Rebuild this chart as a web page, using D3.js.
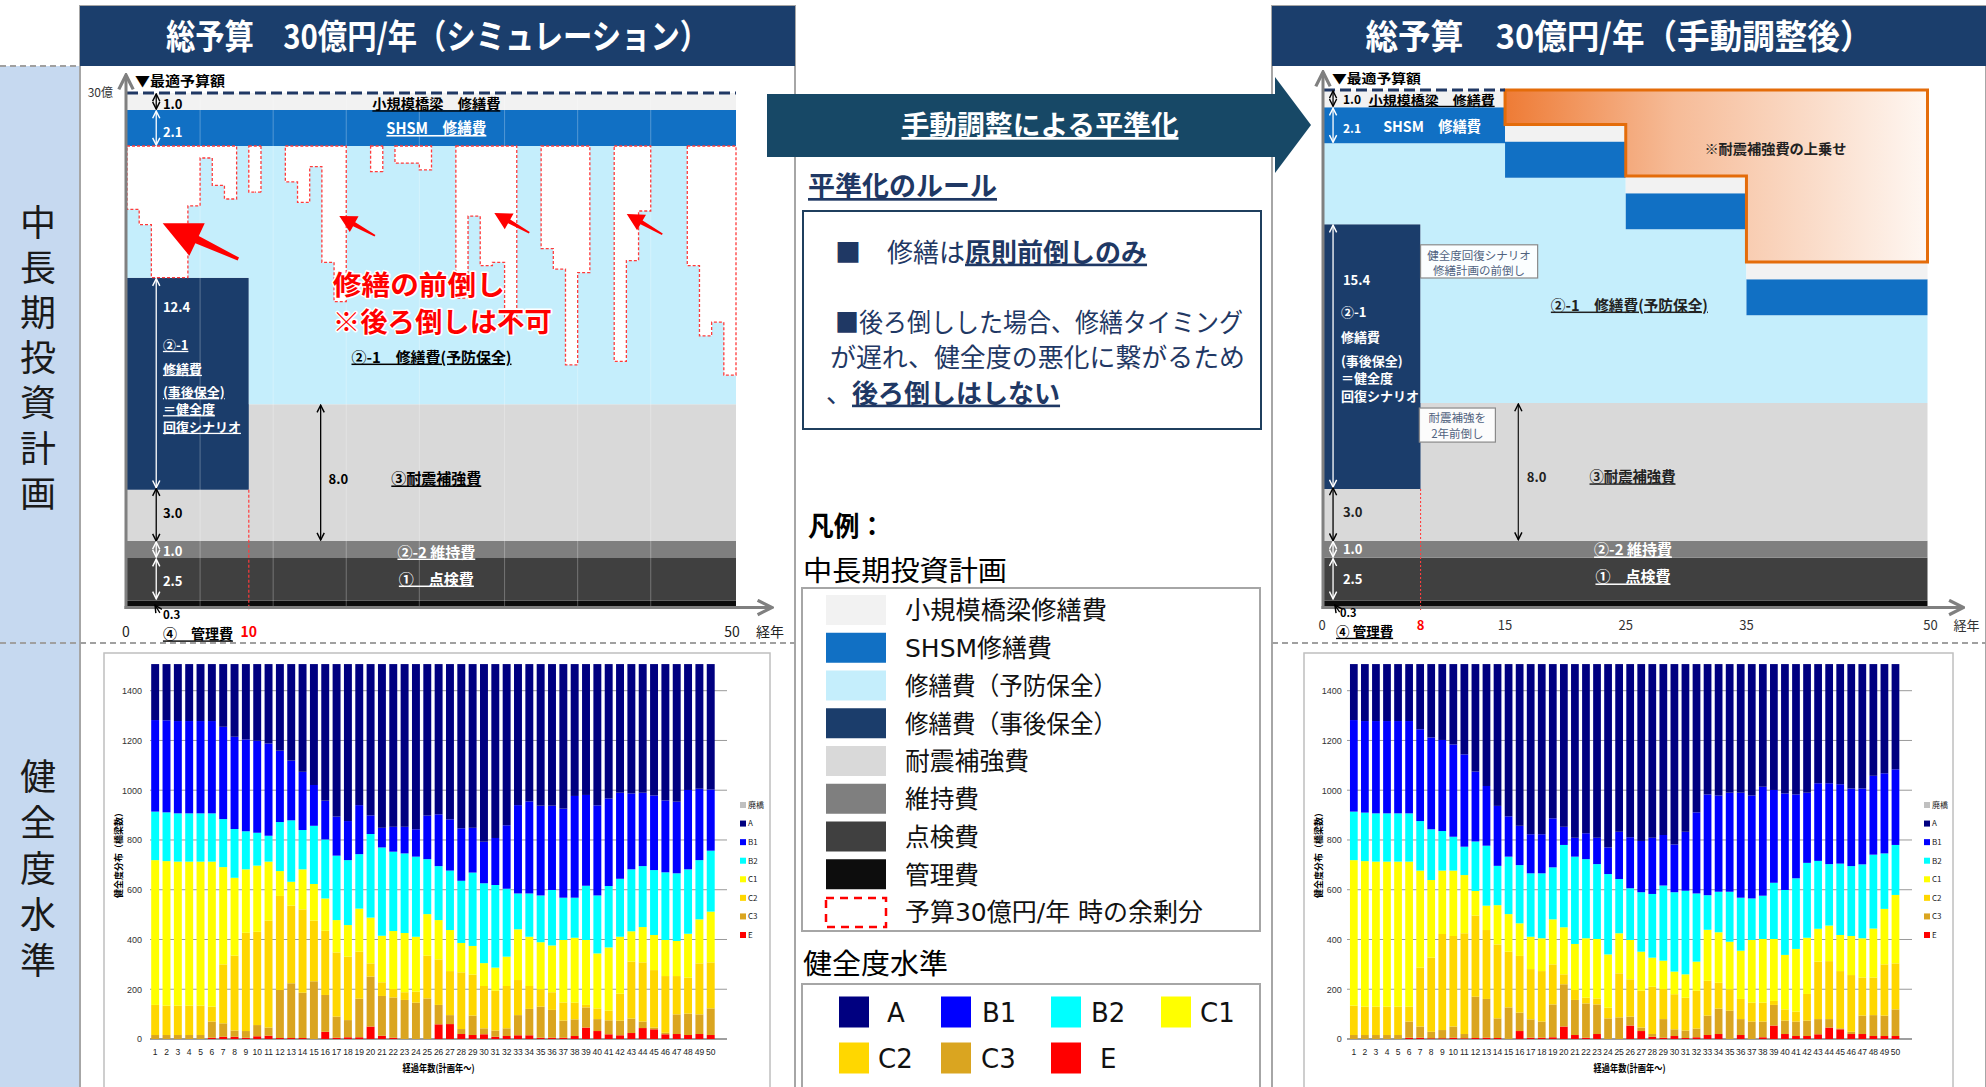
<!DOCTYPE html>
<html lang="ja">
<head>
<meta charset="utf-8">
<title>総予算 30億円/年</title>
<script src="https://cdn.jsdelivr.net/npm/d3@7/dist/d3.min.js"></script>
<style>
html,body{margin:0;padding:0;background:#fff;}
svg{display:block;}
</style>
</head>
<body>
<svg id="board" width="1986" height="1087"></svg>
<script>
// ---------- fonts ----------
const JP = '"Noto Sans CJK JP","Noto Sans CJK SC",sans-serif';
const VERD = '"DejaVu Sans","Noto Sans CJK JP",sans-serif';
const LIB = '"Liberation Sans","DejaVu Sans",sans-serif';

// ---------- 中長期投資計画 (億円/年) ----------
const planYears = d3.range(0, 50);
const TOTAL_BUDGET = 30;
const kanriCost = 0.3;     // ④ 管理費
const tenkenCost = 2.5;    // ① 点検費
const ijiCost = 1.0;       // ②-2 維持費
const shsmCost = 2.1;      // SHSM 修繕費
const shokiboCost = 1.0;   // 小規模橋梁 修繕費

// シミュレーション
const simPeriods = [0, 10, 50];
const simTaishin = [3.0, 8.0];
const simJigo = [12.4, 0];
const simYobo = [4.0, 3.1, 0, 0, 0, 4.2, 7.0, 5.4, 4.6, 7.7,
  12.4, 15.1, 15.1, 13.0, 11.8, 13.9, 8.3, 6.0, 15.1, 15.1,
  13.6, 15.1, 14.1, 14.1, 13.7, 15.1, 15.1, 6.2, 11.0, 8.1,
  8.3, 4.9, 15.1, 15.1, 9.1, 7.9, 2.3, 7.7, 15.1, 15.1,
  2.5, 8.4, 11.3, 15.1, 15.1, 15.1, 8.1, 4.0, 4.8, 1.7];

// 手動調整後
const adjPeriods = [0, 8, 15, 25, 35, 50];
const adjTaishin = [3.0, 8.0, 8.0, 8.0, 8.0];
const adjJigo = [15.4, 0, 0, 0, 0];
const adjYobo = [4.7, 15.1, 13.1, 10.1, 5.1];
const adjUwanose = [0, 0, 2.0, 5.0, 10.0];   // 耐震補強費の上乗せ

const simTicks = [0, 10, 50];
const adjTicks = [0, 8, 15, 25, 35, 50];

// ---------- 健全度水準 (橋梁数) ----------
const healthYears = d3.range(1, 51);
const gradeKeys = ["E", "C3", "C2", "C1", "B2", "B1", "A"];
const healthTicks = [0, 200, 400, 600, 800, 1000, 1200, 1400];
const legendKeys = ["廃橋", "A", "B1", "B2", "C1", "C2", "C3", "E"];

const simE  = [0,0,0,0,0,5,9,9,5,11, 13,4,4,4,0,29,5,7,7,50, 13,5,0,0,0,59,60,20,16,19, 9,12,15,15,5,5,5,12,46,32, 19,15,24,44,39,19,20,16,20,16];
const simC3 = [16,16,16,16,16,65,54,25,27,45, 33,193,220,182,232,148,85,69,155,201, 160,162,157,146,163,78,36,20,78,24, 25,31,81,106,125,112,69,67,81,48, 56,59,58,26,7,6,79,86,79,107];
const simC2 = [121,118,118,118,118,60,237,301,395,375, 430,378,312,335,244,258,258,255,189,53, 55,34,31,44,172,183,177,228,165,170, 160,170,141,92,70,71,73,67,10,43, 39,108,229,238,231,228,154,145,205,185];
const simC1 = [582,581,579,579,579,583,391,313,255,266, 237,100,96,161,147,130,130,127,173,184, 187,233,238,221,167,158,165,118,115,92, 93,118,204,198,189,188,251,261,261,221, 254,229,122,142,141,145,141,176,177,204];
const simB2 = [195,196,194,194,194,194,193,196,153,132, 104,197,247,158,234,237,259,261,219,336, 355,319,320,322,221,217,239,250,295,321, 332,273,144,174,188,223,170,161,218,233, 247,233,249,245,261,272,272,259,238,245];
const simB1 = [368,370,371,371,371,371,371,371,369,370, 371,287,240,234,164,156,157,157,197,75, 79,100,107,110,175,208,206,211,180,167, 189,255,355,370,361,339,358,409,365,362, 352,346,305,295,300,289,288,319,287,246];
const simA  = [225,226,229,229,229,229,252,292,303,308, 319,348,388,433,486,549,613,631,567,608, 658,654,654,664,609,604,624,660,658,714, 699,648,567,552,569,569,581,530,526,568, 540,517,520,517,528,548,553,506,501,504];

const adjE  = [0,0,0,0,0,5,5,3,3,5, 3,4,5,4,0,32,5,5,7,50, 16,5,20,0,0,54,32,9,5,12, 4,7,16,20,0,16,0,7,54,20, 12,12,19,46,39,20,20,12,12,12];
const adjC3 = [16,16,16,16,16,65,45,26,33,45, 17,166,156,79,127,74,74,65,132,170, 141,138,119,83,87,36,14,11,75,27, 30,35,78,102,114,64,70,63,83,54, 58,62,61,34,4,9,74,84,82,107];
const adjC2 = [118,114,114,114,114,60,237,298,386,364, 405,326,277,297,224,228,202,203,161,40, 40,23,24,43,177,150,148,190,121,141, 132,152,140,104,86,81,76,76,16,45, 40,107,231,233,230,228,153,151,206,185];
const adjC1 = [585,585,583,583,583,583,390,312,255,263, 234,99,98,158,151,131,130,132,181,189, 185,239,239,214,161,158,157,117,114,91, 94,117,205,203,191,194,252,256,249,219, 252,226,132,143,145,157,158,197,223,275];
const adjB2 = [195,195,194,194,194,194,199,204,159,136, 114,199,241,158,231,234,255,261,209,331, 351,318,301,323,218,208,239,256,302,319, 336,274,139,163,201,213,167,174,226,261, 284,301,273,247,287,281,297,297,223,201];
const adjB1 = [368,368,371,371,371,371,369,369,366,371, 371,281,240,241,162,158,157,157,197,73, 76,104,106,107,190,205,206,226,203,192, 237,326,405,387,398,422,414,438,373,388, 337,282,312,325,319,312,305,317,322,304];
const adjA  = [225,229,229,229,229,229,262,295,305,323, 363,432,490,570,612,650,684,684,620,654, 698,680,698,737,674,696,711,698,687,725, 674,596,524,528,517,517,528,493,506,520, 524,517,479,479,483,500,500,449,439,423];

// ---------- colours ----------
const layerFill = {
  kanri: "#0d0d0d", tenken: "#404040", iji: "#7f7f7f", taishin: "#d9d9d9",
  jigo: "#1b3d6b", yobo: "#c5eefc", surplus: "#ffffff", shsm: "#1170c4",
  shokibo: "#f2f2f2", uwanose: "url(#uwaGrad)"
};
const gradeColors = { "廃橋": "#c0c0c0", A: "#000080", B1: "#0000ff", B2: "#00ffff",
  C1: "#ffff00", C2: "#ffd700", C3: "#daa520", E: "#ff0000" };
const NAVY = "#1b3e6c";
const TEXT_NAVY = "#1f3864";

// ---------- helpers ----------
const svg = d3.select("#board");
const defs = svg.append("defs");

function txt(g, s, px, cy, o = {}) {
  const size = o.size || 14;
  const t = g.append("text").attr("x", px).attr("y", cy + 0.37 * size).text(s)
    .attr("font-size", size).attr("fill", o.fill || "#000")
    .attr("text-anchor", o.anchor || "start")
    .style("font-family", o.font || JP);
  if (o.bold) t.attr("font-weight", "bold");
  if (o.u) t.style("text-decoration", "underline");
  if (o.len) t.attr("textLength", o.len).attr("lengthAdjust", "spacingAndGlyphs");
  if (o.halo) t.attr("stroke", o.halo).attr("stroke-width", o.haloW || 3)
    .attr("paint-order", "stroke").attr("stroke-linejoin", "round");
  return t;
}

function vtext(s, cx, firstCenter, size, step) {
  svg.append("text").attr("x", cx).attr("y", firstCenter - size / 2)
    .style("writing-mode", "vertical-rl").style("letter-spacing", (step - size) + "px")
    .attr("font-size", size).attr("fill", "#1a1a1a").style("font-family", JP).text(s);
}

function chevron(id, color, size, sw) {
  defs.append("marker").attr("id", id).attr("viewBox", "0 0 10 10")
    .attr("refX", 9).attr("refY", 5).attr("markerUnits", "userSpaceOnUse")
    .attr("markerWidth", size).attr("markerHeight", size).attr("orient", "auto-start-reverse")
    .append("path").attr("d", "M1,1 L9,5 L1,9").attr("fill", "none")
    .attr("stroke", color).attr("stroke-width", sw);
}
chevron("hdBlack", "#000", 9, 1.6);
chevron("hdWhite", "#fff", 9, 1.6);
chevron("hdGray", "#808080", 18, 1.8);

function dblArrow(g, px, y1, y2, color) {
  const m = color === "#fff" ? "hdWhite" : "hdBlack";
  g.append("line").attr("x1", px).attr("x2", px).attr("y1", y1).attr("y2", y2)
    .attr("stroke", color).attr("stroke-width", 1.3)
    .attr("marker-start", `url(#${m})`).attr("marker-end", `url(#${m})`);
}

function blockArrow(g, tail, head, shaftW, headW, headL, color) {
  const dx = head[0] - tail[0], dy = head[1] - tail[1], len = Math.hypot(dx, dy);
  const ux = dx / len, uy = dy / len, px = -uy, py = ux;
  const bx = head[0] - ux * headL, by = head[1] - uy * headL;
  const pts = [
    [tail[0] + px * shaftW * 0.4, tail[1] + py * shaftW * 0.4],
    [bx + px * shaftW, by + py * shaftW],
    [bx + px * headW, by + py * headW],
    head,
    [bx - px * headW, by - py * headW],
    [bx - px * shaftW, by - py * shaftW],
    [tail[0] - px * shaftW * 0.4, tail[1] - py * shaftW * 0.4]];
  g.append("polygon").attr("points", pts.map(p => p.join(",")).join(" ")).attr("fill", color);
}

function pv(periods, vals, yr) {
  const i = d3.bisectRight(periods, yr) - 1;
  return vals[Math.min(i, vals.length - 1)];
}

function budgetRows(periods, taishin, jigo, yobo, uwanose) {
  const rows = planYears.map(yr => {
    const r = {
      year: yr, kanri: kanriCost, tenken: tenkenCost, iji: ijiCost,
      taishin: pv(periods, taishin, yr), jigo: pv(periods, jigo, yr),
      yobo: yobo(yr), shsm: shsmCost, shokibo: shokiboCost,
      uwanose: uwanose ? pv(periods, uwanose, yr) : 0
    };
    const used = r.kanri + r.tenken + r.iji + r.taishin + r.jigo + r.yobo + r.shsm + r.shokibo + r.uwanose;
    r.surplus = Math.max(0, +(TOTAL_BUDGET - used).toFixed(3));
    return r;
  });
  rows.push(Object.assign({}, rows[rows.length - 1], { year: 50 }));
  return rows;
}

function drawLayers(g, rows, keys, x, y) {
  const series = d3.stack().keys(keys)(rows);
  const area = d3.area().curve(d3.curveStepAfter)
    .x(d => x(d.data.year)).y0(d => y(d[0])).y1(d => y(d[1]));
  g.append("g").selectAll("path").data(series).join("path")
    .attr("d", area).attr("fill", s => layerFill[s.key]);
  return series;
}

function axesArrows(g, x, y) {
  g.append("line").attr("x1", x(0) - 1).attr("x2", x(0) - 1)
    .attr("y1", y(0) + 3).attr("y2", y(TOTAL_BUDGET) - 18)
    .attr("stroke", "#808080").attr("stroke-width", 3).attr("marker-end", "url(#hdGray)");
  g.append("line").attr("x1", x(0) - 2.5).attr("x2", x(50) + 36)
    .attr("y1", y(0) + 1.5).attr("y2", y(0) + 1.5)
    .attr("stroke", "#808080").attr("stroke-width", 3).attr("marker-end", "url(#hdGray)");
}

// ---------- page frame ----------
svg.append("rect").attr("width", 1986).attr("height", 1087).attr("fill", "#fff");
svg.append("rect").attr("x", 0).attr("y", 66).attr("width", 80).attr("height", 1021).attr("fill", "#c6d9f0");

vtext("中長期投資計画", 38, 222, 36, 45.2);
vtext("健全度水準", 38, 776, 36, 46);

// panels
[[80, 715, "総予算　30億円/年（シミュレーション）", 543], [1272, 714, "総予算　30億円/年（手動調整後）", 507]]
  .forEach(([px, w, title, len]) => {
    svg.append("rect").attr("x", px).attr("y", 6).attr("width", w).attr("height", 1090)
      .attr("fill", "#fff").attr("stroke", "#a6a6a6").attr("stroke-width", 2);
    svg.append("rect").attr("x", px).attr("y", 6).attr("width", w).attr("height", 60).attr("fill", NAVY);
    txt(svg, title, px + w / 2 - (px > 1000 ? 10 : 0), 36, { size: 34, bold: true, fill: "#fff", anchor: "middle", len });
  });

// dashed separators
const sep = svg.append("g").attr("stroke", "#a0a0a0").attr("stroke-width", 2).attr("stroke-dasharray", "6,4");
sep.append("line").attr("x1", 0).attr("x2", 80).attr("y1", 66).attr("y2", 66);
sep.append("line").attr("x1", 0).attr("x2", 795).attr("y1", 643).attr("y2", 643);
sep.append("line").attr("x1", 1272).attr("x2", 1986).attr("y1", 643).attr("y2", 643);

// ---------- 中長期投資計画: シミュレーション ----------
{
  const g = svg.append("g");
  const x = d3.scaleLinear().domain([0, 50]).range([127, 736]);
  const y = d3.scaleLinear().domain([0, TOTAL_BUDGET]).range([606, 93]);
  const rows = budgetRows(simPeriods, simTaishin, simJigo, yr => simYobo[yr], null);
  const keys = ["kanri", "tenken", "iji", "taishin", "jigo", "yobo", "surplus", "shsm", "shokibo"];
  const series = drawLayers(g, rows, keys, x, y);

  // faint guide lines
  g.append("g").selectAll("line").data([6, 12, 18, 24, 31, 37, 43]).join("line")
    .attr("x1", d => x(d)).attr("x2", d => x(d)).attr("y1", y(0)).attr("y2", y(TOTAL_BUDGET))
    .attr("stroke", "#fff").attr("stroke-opacity", 0.28).attr("stroke-width", 1);

  // surplus outlines (予算30億円/年 時の余剰分)
  const sur = series.find(s => s.key === "surplus");
  const runs = [];
  let cur = null;
  planYears.forEach(i => {
    if (rows[i].surplus > 0) { if (!cur) { cur = []; runs.push(cur); } cur.push(i); } else cur = null;
  });
  const outline = d3.area().curve(d3.curveStepAfter)
    .x(d => x(d.yr)).y0(d => y(d.lo)).y1(d => y(d.hi));
  runs.forEach(run => {
    const pts = run.map(i => ({ yr: i, lo: sur[i][0], hi: sur[i][1] }));
    const l = pts[pts.length - 1];
    pts.push({ yr: l.yr + 1, lo: l.lo, hi: l.hi });
    g.append("path").attr("d", outline(pts)).attr("fill", "none")
      .attr("stroke", "#ff3b3b").attr("stroke-width", 1.3).attr("stroke-dasharray", "3,2");
  });

  // budget ceiling
  g.append("line").attr("x1", x(0)).attr("x2", x(50)).attr("y1", y(30)).attr("y2", y(30))
    .attr("stroke", "#203864").attr("stroke-width", 3).attr("stroke-dasharray", "11,5");

  // switch year marker
  g.append("line").attr("x1", x(10)).attr("x2", x(10)).attr("y1", y(6.8)).attr("y2", y(0) + 4)
    .attr("stroke", "#ff3b3b").attr("stroke-width", 1.2).attr("stroke-dasharray", "3,2");

  axesArrows(g, x, y);

  // labels
  txt(g, "▼最適予算額", x(0.66), y(30.7), { size: 14, bold: true, len: 90 });
  txt(g, "30億", x(0) - 14, y(30), { size: 12, anchor: "end", fill: "#333" });
  const ax = x(2.4), lx = x(2.95);
  dblArrow(g, ax, y(30) + 1, y(29) - 1, "#000");
  txt(g, "1.0", lx, y(29.35), { size: 13, bold: true });
  txt(g, "小規模橋梁　修繕費", x(25.4), y(29.35), { size: 14, bold: true, u: true, anchor: "middle", len: 128 });
  dblArrow(g, ax, y(29) + 1, y(26.9) - 1, "#fff");
  txt(g, "2.1", lx, y(27.7), { size: 13, bold: true, fill: "#fff" });
  txt(g, "SHSM　修繕費", x(25.4), y(27.95), { size: 16, bold: true, u: true, anchor: "middle", fill: "#fff", len: 100 });

  dblArrow(g, ax, y(19.2) + 1, y(6.8) - 2, "#fff");
  txt(g, "12.4", lx, y(17.5), { size: 13, bold: true, fill: "#fff" });
  [["②-1", 15.26], ["修繕費", 13.86], ["(事後保全)", 12.5], ["＝健全度", 11.5], ["回復シナリオ", 10.47]]
    .forEach(([s, v]) => txt(g, s, lx, y(v), { size: 13, bold: true, u: true, fill: "#fff" }));

  dblArrow(g, ax, y(6.8) - 1, y(3.8), "#000");
  txt(g, "3.0", lx, y(5.44), { size: 13, bold: true });
  dblArrow(g, ax, y(3.8) + 1, y(2.8) - 1, "#fff");
  txt(g, "1.0", lx, y(3.2), { size: 13, bold: true, fill: "#fff" });
  dblArrow(g, ax, y(2.8) + 1, y(0.3) - 2, "#fff");
  txt(g, "2.5", lx, y(1.46), { size: 13, bold: true, fill: "#fff" });
  g.append("line").attr("x1", x(2.7)).attr("y1", y(-0.4)).attr("x2", x(2.3)).attr("y2", y(0.05))
    .attr("stroke", "#000").attr("stroke-width", 1.3).attr("marker-end", "url(#hdBlack)");
  txt(g, "0.3", lx, y(-0.5), { size: 11.5, bold: true });
  txt(g, "④　管理費", lx, y(-1.65), { size: 14, bold: true, u: true });

  dblArrow(g, x(15.9), y(11.8) + 1, y(3.8) - 1, "#000");
  txt(g, "8.0", x(16.55), y(7.43), { size: 13, bold: true });
  txt(g, "③耐震補強費", x(21.7), y(7.43), { size: 15, bold: true, u: true, len: 90 });
  txt(g, "②-1　修繕費(予防保全)", x(25.0), y(14.56), { size: 15, bold: true, u: true, anchor: "middle", len: 160 });
  txt(g, "②-2 維持費", x(25.4), y(3.16), { size: 15, bold: true, u: true, anchor: "middle", fill: "#fff" });
  txt(g, "①　点検費", x(25.4), y(1.58), { size: 15, bold: true, u: true, anchor: "middle", fill: "#fff" });

  simTicks.forEach(t => txt(g, String(t), x(t) + (t === 50 ? -4 : (t === 0 ? -1 : 0)), y(-1.52),
    { size: 14, anchor: "middle", bold: t === 10, fill: t === 10 ? "#ff0000" : "#222" }));
  txt(g, "経年", x(50) + 34, y(-1.52), { size: 14, anchor: "middle", fill: "#222" });

  // 前倒しの注記
  blockArrow(g, [x(9.14), y(20.29)], [x(2.93), y(22.38)], 4, 18, 38, "#ff0000");
  blockArrow(g, [x(20.36), y(21.65)], [x(17.43), y(22.81)], 2.2, 9, 17, "#ff0000");
  blockArrow(g, [x(33.03), y(21.83)], [x(30.16), y(22.98)], 2.2, 9, 17, "#ff0000");
  blockArrow(g, [x(43.95), y(21.74)], [x(41.03), y(22.92)], 2.2, 9, 17, "#ff0000");
  txt(g, "修繕の前倒し", x(16.9), y(18.77), { size: 27, bold: true, fill: "#ff0000", halo: "#fff", haloW: 3, len: 172 });
  txt(g, "※後ろ倒しは不可", x(16.9), y(16.6), { size: 27, bold: true, fill: "#ff0000", halo: "#fff", haloW: 3, len: 219 });
}

// ---------- 中長期投資計画: 手動調整後 ----------
{
  const g = svg.append("g");
  const x = d3.scaleLinear().domain([0, 50]).range([1324, 1927.5]);
  const y = d3.scaleLinear().domain([0, TOTAL_BUDGET]).range([606, 90]);
  const grad = defs.append("linearGradient").attr("id", "uwaGrad")
    .attr("gradientUnits", "userSpaceOnUse").attr("x1", x(15)).attr("x2", x(50)).attr("y1", 0).attr("y2", 0);
  grad.append("stop").attr("offset", 0).attr("stop-color", "#ee7b35");
  grad.append("stop").attr("offset", 0.4).attr("stop-color", "#f6bb97");
  grad.append("stop").attr("offset", 1).attr("stop-color", "#fef7f2");

  const rows = budgetRows(adjPeriods, adjTaishin, adjJigo, yr => pv(adjPeriods, adjYobo, yr), adjUwanose);
  const keys = ["kanri", "tenken", "iji", "taishin", "jigo", "yobo", "shsm", "shokibo", "uwanose"];
  const series = drawLayers(g, rows, keys, x, y);

  // outline of 耐震補強費の上乗せ
  const uw = series.find(s => s.key === "uwanose");
  const pts = rows.filter(r => r.year >= 15).map(r => {
    const s = uw[r.year];
    return { yr: r.year, lo: s[0], hi: s[1] };
  });
  const outline = d3.area().curve(d3.curveStepAfter).x(d => x(d.yr)).y0(d => y(d.lo)).y1(d => y(d.hi));
  g.append("path").attr("d", outline(pts)).attr("fill", "none")
    .attr("stroke", "#e46c0a").attr("stroke-width", 3).attr("stroke-linejoin", "miter");

  g.append("line").attr("x1", x(0)).attr("x2", x(15)).attr("y1", y(30)).attr("y2", y(30))
    .attr("stroke", "#203864").attr("stroke-width", 3).attr("stroke-dasharray", "11,5");
  g.append("line").attr("x1", x(8)).attr("x2", x(8)).attr("y1", y(6.8)).attr("y2", y(0) + 4)
    .attr("stroke", "#ff4040").attr("stroke-width", 1.1).attr("stroke-dasharray", "2,2");

  axesArrows(g, x, y);

  txt(g, "▼最適予算額", x(0.66), y(30.7), { size: 13, bold: true, len: 89 });
  const ax = x(0.75), lx = x(1.57);
  dblArrow(g, ax, y(30) + 1, y(29) - 1, "#000");
  txt(g, "1.0", lx, y(29.42), { size: 12, bold: true });
  txt(g, "小規模橋梁　修繕費", x(3.7), y(29.42), { size: 13, bold: true, u: true, len: 126 });
  dblArrow(g, ax, y(29) + 1, y(26.9) - 1, "#fff");
  txt(g, "2.1", lx, y(27.75), { size: 12, bold: true, fill: "#fff" });
  txt(g, "SHSM　修繕費", x(4.9), y(27.9), { size: 15, bold: true, fill: "#fff", len: 98 });

  dblArrow(g, ax, y(22.2) + 1, y(6.8) - 2, "#fff");
  txt(g, "15.4", lx, y(18.95), { size: 13, bold: true, fill: "#fff" });
  [["②-1", 17.1], ["修繕費", 15.64], ["(事後保全)", 14.24], ["＝健全度", 13.26], ["回復シナリオ", 12.2]]
    .forEach(([s, v]) => txt(g, s, x(1.4), y(v), { size: 13, bold: true, fill: "#fff" }));

  // 注記ボックス
  const boxes = [
    { x0: 8.0, x1: 17.7, v0: 21.0, v1: 19.07, lines: [["健全度回復シナリオ", 20.37], ["修繕計画の前倒し", 19.5]] },
    { x0: 7.9, x1: 14.2, v0: 11.51, v1: 9.53, lines: [["耐震補強を", 10.93], ["2年前倒し", 10.0]] }
  ];
  boxes.forEach(b => {
    g.append("rect").attr("x", x(b.x0)).attr("y", y(b.v0)).attr("width", x(b.x1) - x(b.x0))
      .attr("height", y(b.v1) - y(b.v0)).attr("fill", "#fff").attr("fill-opacity", 0.92)
      .attr("stroke", "#8a8a8a").attr("stroke-width", 1.2);
    b.lines.forEach(([s, v]) => txt(g, s, (x(b.x0) + x(b.x1)) / 2, y(v), { size: 11.5, anchor: "middle", fill: "#50627e" }));
  });

  txt(g, "②-1　修繕費(予防保全)", x(25.3), y(17.5), { size: 15, bold: true, u: true, anchor: "middle", fill: "#222", len: 157 });
  txt(g, "※耐震補強費の上乗せ", x(37.4), y(26.6), { size: 14, bold: true, anchor: "middle", fill: "#222", len: 142 });

  dblArrow(g, x(16.1), y(11.8) + 1, y(3.8) - 1, "#222");
  txt(g, "8.0", x(16.8), y(7.5), { size: 13, bold: true, fill: "#222" });
  txt(g, "③耐震補強費", x(22.0), y(7.5), { size: 14.5, bold: true, u: true, fill: "#222", len: 86 });

  dblArrow(g, ax, y(6.8) - 1, y(3.8), "#000");
  txt(g, "3.0", lx, y(5.47), { size: 13, bold: true, fill: "#222" });
  dblArrow(g, ax, y(3.8) + 1, y(2.8) - 1, "#fff");
  txt(g, "1.0", lx, y(3.31), { size: 13, bold: true, fill: "#fff" });
  dblArrow(g, ax, y(2.8) + 1, y(0.3) - 2, "#fff");
  txt(g, "2.5", lx, y(1.57), { size: 13, bold: true, fill: "#fff" });
  txt(g, "②-2 維持費", x(25.6), y(3.26), { size: 15, bold: true, u: true, anchor: "middle", fill: "#fff" });
  txt(g, "①　点検費", x(25.6), y(1.69), { size: 15, bold: true, u: true, anchor: "middle", fill: "#fff" });

  g.append("line").attr("x1", x(1.3)).attr("y1", y(-0.35)).attr("x2", x(0.9)).attr("y2", y(0.05))
    .attr("stroke", "#000").attr("stroke-width", 1.3).attr("marker-end", "url(#hdBlack)");
  txt(g, "0.3", x(1.33), y(-0.4), { size: 11, bold: true });
  txt(g, "④ 管理費", x(1.0), y(-1.5), { size: 13.5, bold: true, u: true });

  adjTicks.forEach(t => txt(g, String(t), x(t) + (t === 50 ? 3 : (t === 0 ? -2 : 0)), y(-1.1),
    { size: 13, anchor: "middle", bold: t === 8, fill: t === 8 ? "#ff0000" : "#333" }));
  txt(g, "経年", x(50) + 39, y(-1.1), { size: 13, anchor: "middle", fill: "#333" });
}

// ---------- 健全度水準 charts ----------
function drawHealth(cfg, data) {
  const g = svg.append("g");
  const x = d3.scaleBand().domain(healthYears).range(cfg.band).paddingInner(0.3).paddingOuter(0.15);
  const y = d3.scaleLinear().domain([0, 1400]).range([cfg.y0, cfg.y1400]);
  g.append("rect").attr("x", cfg.frame[0]).attr("y", cfg.frame[1]).attr("width", cfg.frame[2])
    .attr("height", cfg.frame[3]).attr("fill", "#fff").attr("stroke", "#bfbfbf").attr("stroke-width", 1.5);

  g.append("g").selectAll("line").data(healthTicks).join("line")
    .attr("x1", cfg.grid[0]).attr("x2", cfg.grid[1]).attr("y1", d => y(d)).attr("y2", d => y(d))
    .attr("stroke", d => d === 0 ? "#7f7f7f" : "#9a9a9a").attr("stroke-width", d => d === 0 ? 1.4 : 1);

  const yAxis = g.append("g").attr("transform", `translate(${cfg.grid[0]},0)`)
    .call(d3.axisLeft(y).tickValues(healthTicks).tickFormat(d3.format("d"))
      .tickSize(0).tickPadding(cfg.grid[0] - cfg.labelX));
  yAxis.select(".domain").remove();
  yAxis.selectAll("text").attr("font-size", 9).attr("fill", "#333").style("font-family", LIB);

  const rows = healthYears.map((yr, i) => {
    const r = { yr };
    gradeKeys.forEach(k => { r[k] = data[k][i]; });
    return r;
  });
  const series = d3.stack().keys(gradeKeys)(rows);
  g.append("g").selectAll("g").data(series).join("g").attr("fill", s => gradeColors[s.key])
    .selectAll("rect").data(s => s).join("rect")
    .attr("x", d => x(d.data.yr)).attr("width", x.bandwidth())
    .attr("y", d => y(d[1])).attr("height", d => y(d[0]) - y(d[1]));

  const xAxis = g.append("g").attr("transform", `translate(0,${cfg.y0})`)
    .call(d3.axisBottom(x).tickSize(0).tickPadding(10));
  xAxis.select(".domain").remove();
  xAxis.selectAll("text").attr("font-size", 8.5).attr("fill", "#222").style("font-family", LIB);

  txt(g, "経過年数(計画年～)", (cfg.grid[0] + cfg.grid[1]) / 2, 1068, { size: 10, bold: true, anchor: "middle", len: 72 });
  g.append("text").attr("transform", `translate(${cfg.titleX},853) rotate(-90)`)
    .attr("text-anchor", "middle").attr("dy", "0.37em").attr("font-size", 9).attr("font-weight", "bold")
    .style("font-family", JP).text("健全度分布（橋梁数）");

  const ly = d3.scalePoint().domain(legendKeys).range([805, 935]);
  const lg = g.append("g").selectAll("g").data(legendKeys).join("g")
    .attr("transform", d => `translate(${cfg.legendX},${ly(d)})`);
  lg.append("rect").attr("x", 0).attr("y", -3).attr("width", 6).attr("height", 6).attr("fill", d => gradeColors[d]);
  lg.append("text").attr("x", 8).attr("dy", "0.35em").attr("font-size", 8).attr("fill", "#222")
    .style("font-family", JP).text(d => d);
}

drawHealth({ frame: [104, 653, 666, 450], band: [149.5, 716.4], grid: [150, 727], y0: 1039, y1400: 690.7,
  labelX: 142, titleX: 119, legendX: 740 },
  { E: simE, C3: simC3, C2: simC2, C1: simC1, B2: simB2, B1: simB1, A: simA });
drawHealth({ frame: [1304, 653, 649, 450], band: [1348.3, 1901], grid: [1347, 1912], y0: 1039, y1400: 690.7,
  labelX: 1341.7, titleX: 1319, legendX: 1924 },
  { E: adjE, C3: adjC3, C2: adjC2, C1: adjC1, B2: adjB2, B1: adjB1, A: adjA });

// ---------- 中央: 平準化のルールと凡例 ----------
{
  const g = svg.append("g");
  txt(g, "平準化のルール", 808, 186, { size: 27, bold: true, u: true, fill: TEXT_NAVY, len: 189 });
  g.append("rect").attr("x", 803).attr("y", 211).attr("width", 458).attr("height", 218)
    .attr("fill", "#fff").attr("stroke", "#1f3f5e").attr("stroke-width", 2);

  const line1 = g.append("text").attr("x", 835).attr("y", 252 + 0.37 * 26).attr("font-size", 26)
    .attr("fill", TEXT_NAVY).style("font-family", JP);
  line1.append("tspan").text("■　修繕は");
  line1.append("tspan").text("原則前倒しのみ").attr("font-weight", "bold").style("text-decoration", "underline");

  txt(g, "■後ろ倒しした場合、修繕タイミング", 835, 322, { size: 26, fill: TEXT_NAVY, len: 408 });
  txt(g, "が遅れ、健全度の悪化に繋がるため", 830, 357, { size: 26, fill: TEXT_NAVY, len: 415 });
  const line4 = g.append("text").attr("x", 826).attr("y", 393 + 0.37 * 26).attr("font-size", 26)
    .attr("fill", TEXT_NAVY).style("font-family", JP);
  line4.append("tspan").text("、");
  line4.append("tspan").text("後ろ倒しはしない").attr("font-weight", "bold").style("text-decoration", "underline");

  txt(g, "凡例：", 808, 526, { size: 27, bold: true, len: 77 });
  txt(g, "中長期投資計画", 803, 571, { size: 28, len: 204 });
  g.append("rect").attr("x", 802).attr("y", 588).attr("width", 458).attr("height", 343)
    .attr("fill", "#fff").attr("stroke", "#a6a6a6").attr("stroke-width", 2);

  const planLegend = [
    { key: "shokibo", label: "小規模橋梁修繕費", len: 202 },
    { key: "shsm", label: "SHSM修繕費", len: 147 },
    { key: "yobo", label: "修繕費（予防保全）", len: 212 },
    { key: "jigo", label: "修繕費（事後保全）", len: 212 },
    { key: "taishin", label: "耐震補強費", len: 124 },
    { key: "iji", label: "維持費", len: 74 },
    { key: "tenken", label: "点検費", len: 74 },
    { key: "kanri", label: "管理費", len: 74 },
    { key: "surplus", label: "予算30億円/年 時の余剰分", len: 298 }
  ];
  const py = d3.scalePoint().domain(planLegend.map(d => d.key)).range([610, 912]);
  planLegend.forEach(d => {
    const r = g.append("rect").attr("x", 826).attr("y", py(d.key) - 15).attr("width", 60).attr("height", 30)
      .attr("fill", layerFill[d.key]);
    if (d.key === "surplus") r.attr("stroke", "#ff0000").attr("stroke-width", 2.5).attr("stroke-dasharray", "8,6")
      .attr("y", py(d.key) - 14).attr("height", 29);
    txt(g, d.label, 905, py(d.key), { size: 25, font: VERD, fill: "#111", len: d.len });
  });

  txt(g, "健全度水準", 803, 964, { size: 28, len: 145 });
  g.append("rect").attr("x", 802).attr("y", 984).attr("width", 458).attr("height", 120)
    .attr("fill", "#fff").attr("stroke", "#a6a6a6").attr("stroke-width", 2);
  const gradeLegend = [
    { key: "A", sx: 839, tx: 887 }, { key: "B1", sx: 941, tx: 982 },
    { key: "B2", sx: 1051, tx: 1091 }, { key: "C1", sx: 1161, tx: 1200 },
    { key: "C2", sx: 839, tx: 878 }, { key: "C3", sx: 941, tx: 981 }, { key: "E", sx: 1051, tx: 1100 }
  ];
  gradeLegend.forEach((d, i) => {
    const cy = i < 4 ? 1012 : 1058;
    g.append("rect").attr("x", d.sx).attr("y", cy - 15.5).attr("width", 30).attr("height", 31).attr("fill", gradeColors[d.key]);
    txt(g, d.key, d.tx, cy, { size: 26, font: VERD, fill: "#111" });
  });
}

// ---------- 手動調整による平準化 arrow ----------
{
  const g = svg.append("g");
  const arrow = [[767, 94], [1275, 94], [1275, 77], [1311, 125], [1275, 173], [1275, 157], [767, 157]];
  g.append("polygon").attr("points", arrow.map(p => p.join(",")).join(" ")).attr("fill", "#174866");
  txt(g, "手動調整による平準化", 1040, 125, { size: 27, bold: true, u: true, fill: "#fff", anchor: "middle", len: 277 });
}
</script>
</body>
</html>
